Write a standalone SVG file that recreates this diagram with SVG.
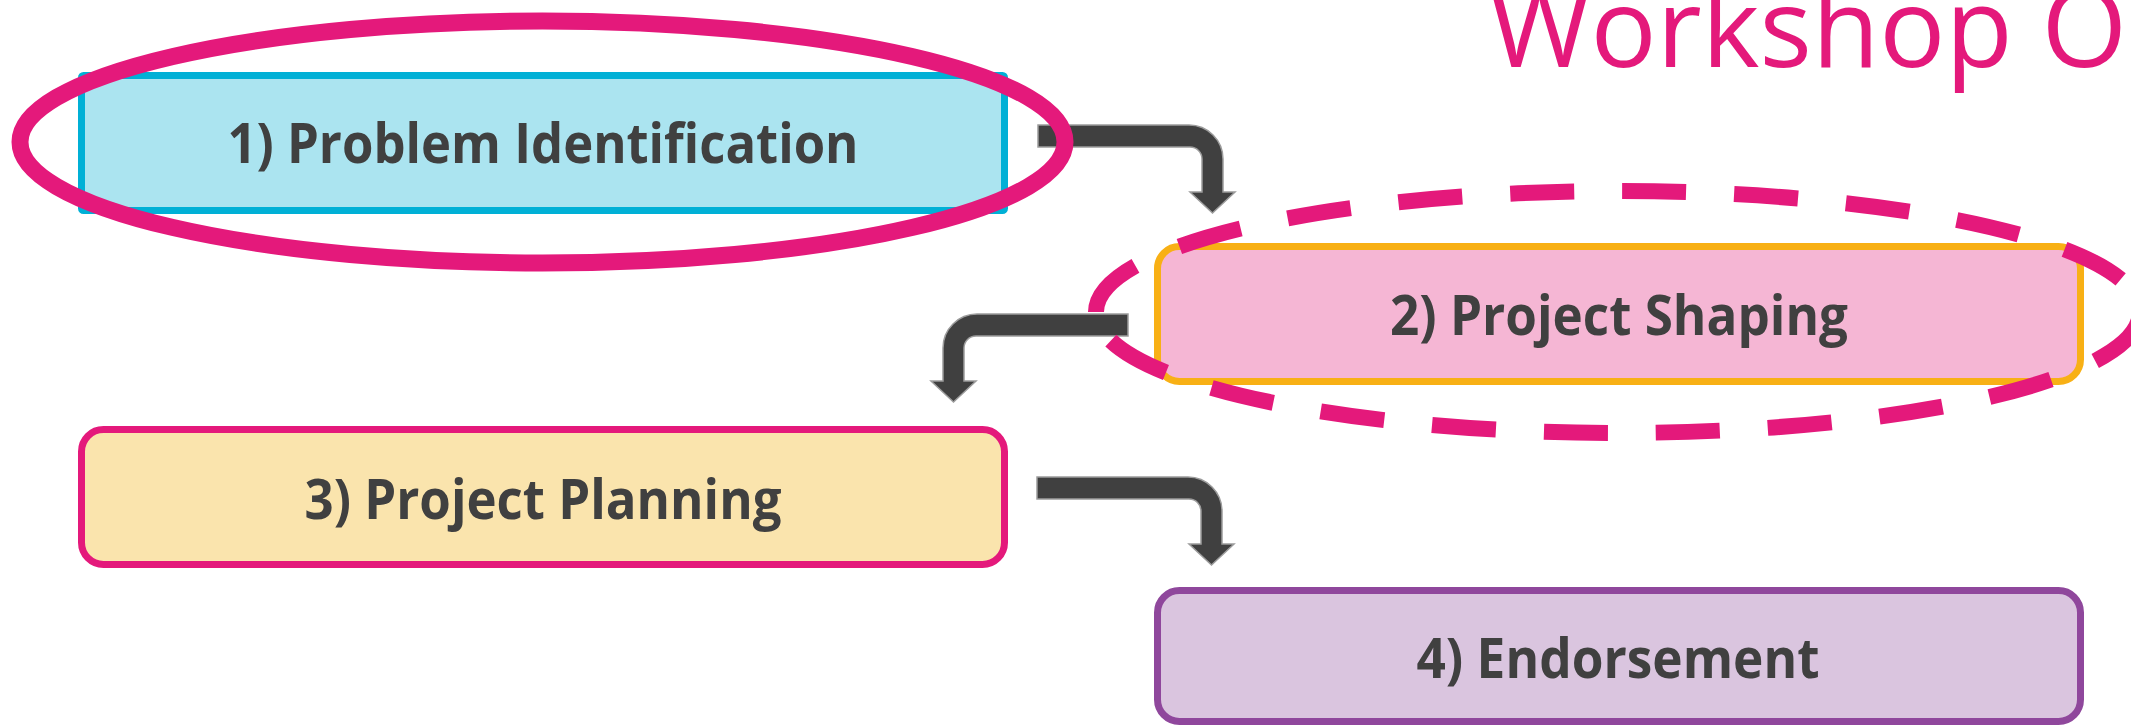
<svg xmlns="http://www.w3.org/2000/svg" width="2131" height="725" viewBox="0 0 2131 725">
  <style>
    .box { stroke-width: 7; }
    .label { font-family: "Open Sans", "Noto Sans", "Liberation Sans", sans-serif; font-weight: 700; font-size: 55px; fill: #404040; text-anchor: middle; }
    .title { font-family: "Open Sans", "Noto Sans", "Liberation Sans", sans-serif; font-weight: 400; font-size: 110px; fill: #E4197B; }
    .arrow { fill: #404040; stroke: #9C9C9C; stroke-width: 1.5; stroke-linejoin: miter; }
    .ring { fill: none; stroke: #E4197B; stroke-width: 17; }
    .ring-dash { fill: none; stroke: #E4197B; stroke-width: 16; stroke-dasharray: 64 48; }
  </style>
  <defs>
    <path id="bent-arrow" d="M 0 0 H 151 A 34 34 0 0 1 185 34 V 67 H 197 L 174.5 88 L 152 67 H 164 V 34 A 12 12 0 0 0 152 22 H 0 Z"/>
  </defs>
  <rect x="0" y="0" width="2131" height="725" fill="#FFFFFF"/>

  <g id="title">
    <text class="title" x="1489" y="67">Workshop O</text>
  </g>

  <g id="node-1">
    <rect class="box" x="81.5" y="75.5" width="923" height="135" rx="2" fill="#ABE4F0" stroke="#00B0D6"/>
    <text class="label" x="543" y="163" textLength="631" lengthAdjust="spacingAndGlyphs">1) Problem Identification</text>
  </g>
  <g id="node-2">
    <rect class="box" x="1157.5" y="246.5" width="923" height="135" rx="22" fill="#F5B6D4" stroke="#F8B015"/>
    <text class="label" x="1619" y="335" textLength="458" lengthAdjust="spacingAndGlyphs">2) Project Shaping</text>
  </g>
  <g id="node-3">
    <rect class="box" x="81.5" y="429.5" width="923" height="135" rx="22" fill="#FAE4AD" stroke="#E4197B"/>
    <text class="label" x="543" y="519" textLength="477" lengthAdjust="spacingAndGlyphs">3) Project Planning</text>
  </g>
  <g id="node-4">
    <rect class="box" x="1157.5" y="590.5" width="923" height="131" rx="22" fill="#DAC5DF" stroke="#8F479C"/>
    <text class="label" x="1618" y="678" textLength="403" lengthAdjust="spacingAndGlyphs">4) Endorsement</text>
  </g>

  <g id="connectors">
    <use href="#bent-arrow" class="arrow" transform="translate(1038,125)"/>
    <use href="#bent-arrow" class="arrow" transform="translate(1128,314) scale(-1,1)"/>
    <use href="#bent-arrow" class="arrow" transform="translate(1037,477)"/>
  </g>

  <g id="highlight-1">
    <ellipse class="ring" cx="542.5" cy="142" rx="522.5" ry="121"/>
  </g>
  <g id="highlight-2">
    <path class="ring-dash" stroke-dashoffset="-5.5" d="M 2140 312 A 522 121 0 0 1 1096 312"/>
    <path class="ring-dash" stroke-dashoffset="0.5" d="M 1096 312 A 522 121 0 0 1 2140 312"/>
  </g>
</svg>
